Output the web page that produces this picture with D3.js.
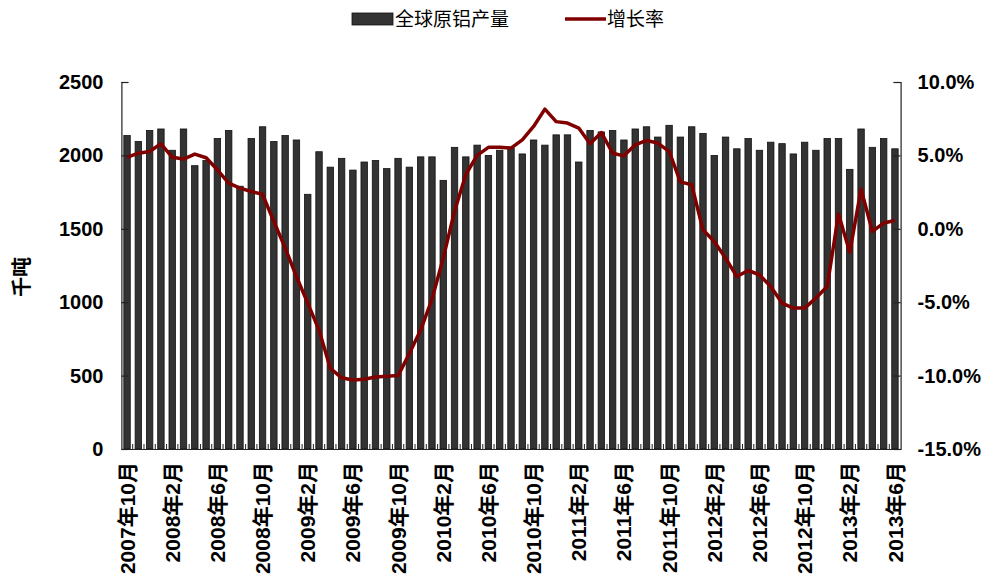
<!DOCTYPE html>
<html><head><meta charset="utf-8">
<script src="https://cdn.jsdelivr.net/npm/d3@7/dist/d3.min.js"></script>
<style>
html,body{margin:0;padding:0;background:#fff;}
svg{display:block;}
</style></head>
<body>
<svg id="chart" width="987" height="581"></svg>
<script>
// ---- data ----
const startYear = 2007, startMonth = 10, nMonths = 69;
const categories = [];
for (let i = 0; i < nMonths; i++) {
  const m = (startMonth - 1 + i) % 12 + 1;
  const y = startYear + Math.floor((startMonth - 1 + i) / 12);
  categories.push(y + "年" + m + "月");
}
const tickLabels = ["2007年10月","2008年2月","2008年6月","2008年10月","2009年2月","2009年6月","2009年10月",
  "2010年2月","2010年6月","2010年10月","2011年2月","2011年6月","2011年10月","2012年2月","2012年6月",
  "2012年10月","2013年2月","2013年6月"];
const production = [2135,2095,2170,2180,2035,2180,1930,1965,2115,2170,1790,2115,2195,2095,2135,2105,1735,
  2025,1920,1980,1900,1955,1965,1910,1980,1920,1990,1990,1830,2055,1990,2070,2000,2035,2050,2010,2105,2070,
  2140,2140,1955,2170,2160,2170,2105,2180,2195,2125,2205,2125,2195,2150,2000,2125,2045,2115,2035,2090,2080,
  2010,2090,2035,2115,2115,1905,2180,2055,2115,2045];
const growth = [4.86,5.15,5.27,5.79,4.88,4.75,5.09,4.84,4.02,3.11,2.77,2.54,2.35,0.5,-1.3,-3.25,-5.06,
  -6.9,-9.5,-10.15,-10.3,-10.25,-10.1,-10.05,-10.0,-8.5,-6.9,-4.8,-2.0,1.2,3.7,5.0,5.55,5.55,5.5,6.06,6.97,8.15,
  7.3,7.2,6.86,5.8,6.56,5.15,4.97,5.72,6.02,5.84,5.27,3.2,3.0,-0.07,-0.86,-2.0,-3.25,-2.84,-3.13,-3.93,-5.06,
  -5.4,-5.4,-4.72,-3.93,1.0,-1.6,2.7,-0.18,0.39,0.57];
const leftTicks = [0,500,1000,1500,2000,2500];
const rightTicks = [-15,-10,-5,0,5,10];
const seriesNames = ["全球原铝产量","增长率"];
const yTitle = "千吨";

// ---- layout ----
const svg = d3.select("#chart");
const L = 121.4, R = 900.6, T = 82, B = 449;
const fontNum = "'Liberation Sans', Arial, 'Noto Sans CJK SC', sans-serif";
const fontCJK = "'Noto Sans CJK SC', sans-serif";

const x = d3.scaleBand().domain(categories).range([L, R]).paddingInner(0.43).paddingOuter(0.215);
const xc = d => x(d) + x.bandwidth() / 2;
const yL = d3.scaleLinear().domain([0, 2500]).range([B, T]);
const yR = d3.scaleLinear().domain([-15, 10]).range([B, T]);

// bars
svg.append("g").selectAll("rect").data(production).join("rect")
  .attr("x", (d, i) => x(categories[i]))
  .attr("y", d => yL(d))
  .attr("width", x.bandwidth())
  .attr("height", d => B - yL(d))
  .attr("fill", "#333333")
  .attr("stroke", "#111")
  .attr("stroke-width", 0.8);

// line
const line = d3.line().x((d, i) => xc(categories[i])).y(d => yR(d));
svg.append("path").datum(growth)
  .attr("d", line)
  .attr("fill", "none")
  .attr("stroke", "#800000")
  .attr("stroke-width", 3.5)
  .attr("stroke-linejoin", "round");

// left axis
const gL = svg.append("g").attr("transform", `translate(${L},0)`)
  .call(d3.axisLeft(yL).tickValues(leftTicks).tickSize(-7).tickPadding(18).tickFormat(d3.format("d")));
// right axis
const gR = svg.append("g").attr("transform", `translate(${R},0)`)
  .call(d3.axisRight(yR).tickValues(rightTicks).tickSize(-7).tickPadding(17).tickFormat(d => d.toFixed(1) + "%"));
[gL, gR].forEach(g => {
  g.select(".domain").attr("stroke", "#222").attr("stroke-width", 1.2);
  g.selectAll(".tick line").attr("stroke", "#222").attr("stroke-width", 1.2);
  g.selectAll(".tick text").attr("font-family", fontNum).attr("font-size", 20)
    .attr("font-weight", "bold").attr("fill", "#000");
});

// bottom axis
const gB = svg.append("g").attr("transform", `translate(0,${B})`)
  .call(d3.axisBottom(x).tickValues([]).tickSize(0));
gB.select(".domain").attr("stroke", "#222").attr("stroke-width", 1.2);
// small category boundary ticks
svg.append("g").selectAll("line").data(categories.slice(1)).join("line")
  .attr("x1", d => x(d) - x.step() * x.paddingInner() / 2)
  .attr("x2", d => x(d) - x.step() * x.paddingInner() / 2)
  .attr("y1", B).attr("y2", B - 5)
  .attr("stroke", "#222").attr("stroke-width", 1);

// x labels
svg.append("g").selectAll("text").data(tickLabels).join("text")
  .attr("transform", d => `translate(${xc(d)},462) rotate(-90)`)
  .attr("text-anchor", "end")
  .attr("dy", "0.36em")
  .attr("font-family", fontNum)
  .attr("font-size", 21)
  .attr("font-weight", "bold")
  .attr("fill", "#000")
  .text(d => d);

// y title
svg.append("text")
  .attr("transform", "translate(22,277) rotate(-90)")
  .attr("text-anchor", "middle")
  .attr("dy", "0.36em")
  .attr("font-family", fontCJK)
  .attr("font-size", 20)
  .attr("font-weight", "bold")
  .text(yTitle);

// legend
const lg = svg.append("g");
lg.append("rect").attr("x", 352).attr("y", 13).attr("width", 41).attr("height", 12)
  .attr("fill", "#333333").attr("stroke", "#111").attr("stroke-width", 0.8);
lg.append("text").attr("x", 395).attr("y", 19).attr("dy", "0.36em")
  .attr("font-family", fontCJK).attr("font-size", 19).attr("fill", "#000").text(seriesNames[0]);
lg.append("line").attr("x1", 565).attr("x2", 606).attr("y1", 19).attr("y2", 19)
  .attr("stroke", "#800000").attr("stroke-width", 3.5);
lg.append("text").attr("x", 607).attr("y", 19).attr("dy", "0.36em")
  .attr("font-family", fontCJK).attr("font-size", 19).attr("fill", "#000").text(seriesNames[1]);
</script>
</body></html>
